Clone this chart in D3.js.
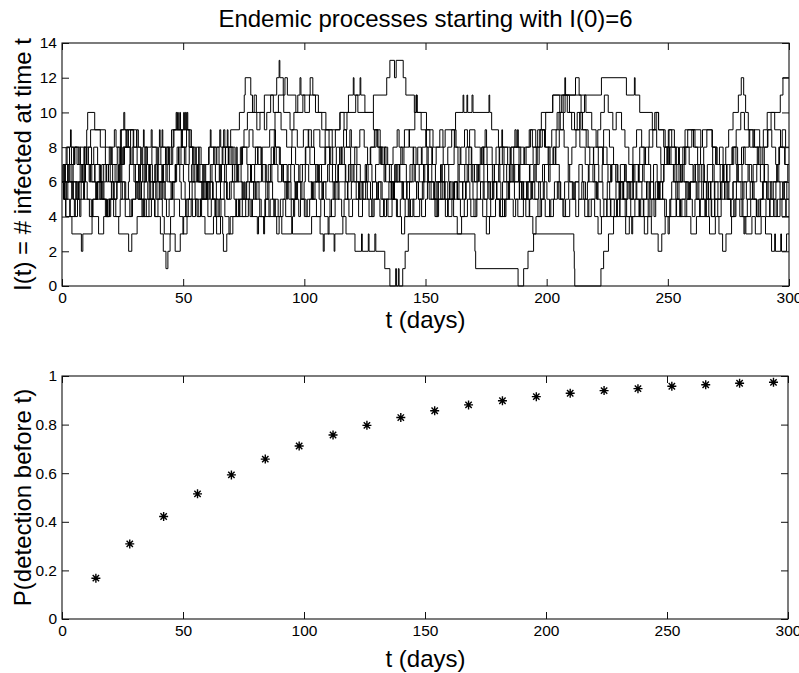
<!DOCTYPE html>
<html>
<head>
<meta charset="utf-8">
<script src="https://cdn.jsdelivr.net/npm/d3@7"></script>
<style>
  body { margin: 0; background: #fff; }
  text { font-family: "Liberation Sans", Arial, Helvetica, sans-serif; }
</style>
</head>
<body>
<div id="chart"></div>
<script>
'use strict'

// sample paths of I(t): [time of jump, new level]
const run1 = [[0,6],[1.4,7],[2.1,8],[3.5,9],[3.8,8],[6.9,7],[8.2,6],[9.1,7],[11.6,6],[13.9,5],[14.4,6],[17.2,7],[19.5,8],[20.1,7],[22.8,8],[23.6,7],[24.1,9],[25.5,10],[25.9,9],[27.2,8],[28.3,9],[29.6,8],[31,7],[32.4,6],[33.3,8],[33.6,9],[33.9,8],[35.2,7],[36.4,6],[38.7,5],[40.1,6],[41.5,7],[43.8,8],[45.2,9],[47.1,10],[47.4,9],[49.2,8],[50.5,7],[52.3,6],[54.8,7],[55.6,6],[57.9,5],[59.4,6],[61.2,7],[62.6,8],[64.8,7],[66.1,8],[66.7,9],[67.2,8],[69.6,9],[73.2,10],[75.2,11],[75.6,12],[77.9,11],[78.6,10],[80.4,9],[81.7,10],[83.5,11],[88.6,12],[89.6,13],[89.9,12],[91.3,11],[92,12],[93,11],[96.5,10],[97.3,11],[98.2,12],[98.6,11],[102.4,12],[103.5,11],[105.8,10],[108.9,9],[110.2,8],[111.7,7],[113.2,8],[114.6,7],[116.9,6],[118.2,7],[120.5,6],[122.6,5],[124.1,6],[126.3,7],[127.9,6],[129.8,5],[131.2,4],[132.7,5],[134.9,6],[137.3,7],[138.1,6],[140.6,5],[142.2,6],[144.5,7],[146.8,8],[148.3,7],[150.9,6],[153.4,5],[155.1,6],[156.9,7],[159.6,6],[161.3,5],[163.8,6],[166.2,7],[167.9,8],[169.1,7],[172.4,6],[174.2,5],[175.7,6],[178.4,7],[180.6,8],[181.5,9],[181.8,8],[184.9,7],[186.1,6],[188.7,5],[190.2,6],[193.1,7],[194.4,8],[196.3,9],[197.8,10],[202.5,11],[207.5,12],[207.8,11],[211.9,12],[213.4,11],[216.2,10],[218.6,9],[220.4,8],[223.1,7],[225.3,6],[226.8,7],[229.4,6],[231.2,5],[233.6,6],[235.8,7],[238.4,8],[240.2,7],[242.9,6],[244.1,5],[246.6,6],[248.3,7],[250.7,8],[253.5,7],[255.2,6],[257.9,5],[259.1,6],[261.4,7],[263.8,6],[265.9,5],[268.1,4],[269.4,5],[271.8,6],[273.2,7],[276.5,8],[278.1,7],[280.6,6],[282.4,5],[284.9,6],[286.7,7],[288.2,6],[290.8,5],[292.3,6],[294.9,7],[296.1,8],[298.4,7]]
const run2 = [[0,6],[0.7,5],[2.4,6],[4.1,7],[5.3,8],[6.2,7],[7.4,8],[10.2,9],[10.6,10],[13.5,9],[15.8,8],[17.9,7],[19.2,6],[21.4,5],[22.6,6],[24.7,7],[25.8,8],[28.1,7],[30.3,6],[31.9,7],[34.6,8],[36.8,9],[37.2,8],[39.5,7],[40.8,8],[41.3,9],[41.6,8],[43.9,7],[45.1,8],[45.9,9],[48.6,10],[48.9,9],[50.2,10],[50.5,9],[51.6,10],[51.9,9],[53.4,8],[55.2,7],[56.9,6],[58.3,7],[60.7,8],[61.2,9],[61.5,8],[63.6,7],[65.2,6],[67.8,7],[69.3,8],[71.4,7],[73.6,8],[75.1,9],[76.5,10],[79.3,11],[80.2,10],[83.5,9],[84.5,10],[86.1,11],[87.2,10],[89.3,11],[91.5,10],[94.1,9],[95.7,10],[99.4,11],[100.2,10],[102.1,11],[104.6,10],[107.2,9],[114.7,10],[118.2,11],[120.2,12],[120.5,11],[123,12],[123.3,11],[125,10],[128.5,9],[130.1,8],[132.4,7],[133.6,6],[135.8,5],[137.2,6],[139.4,7],[141.1,8],[143.2,9],[145.6,10],[146.1,11],[146.4,10],[148.2,9],[150.4,8],[152.6,7],[154.1,6],[156.3,5],[158.2,4],[159.1,5],[161.5,6],[163.2,5],[165.4,6],[167.8,7],[169.5,6],[171.2,7],[173.9,8],[175.4,7],[177.6,6],[179.3,5],[181.8,6],[183.5,7],[185.3,8],[187.9,9],[188.3,8],[190.6,7],[192.9,6],[194.2,5],[196.7,6],[198.3,7],[200.6,8],[202.1,9],[204.3,10],[206.2,11],[208.5,10],[210.3,9],[212.6,10],[214.8,9],[217.1,8],[219.3,7],[221.5,6],[223.2,5],[224.8,4],[226.3,5],[228.6,6],[230.4,7],[232.8,6],[234.5,5],[236.9,6],[238.2,7],[240.8,8],[242.3,9],[244.6,10],[246.2,9],[248.9,8],[250.4,7],[252.9,6],[254.6,7],[256.2,8],[258.8,7],[260.4,6],[262.1,5],[264.7,6],[266.3,7],[268.5,8],[270.3,7],[272.8,6],[274.4,5],[276.9,6],[278.6,7],[281.2,8],[283.5,9],[285.1,8],[287.6,7],[289.2,8],[291.1,9],[292.6,10],[294.1,9],[296.5,8],[298.2,7]]
const run3 = [[0,6],[1.1,7],[2.8,6],[4.4,5],[5.7,6],[7.5,7],[9.2,8],[10.1,7],[12.3,6],[13.6,7],[15.4,6],[16.9,5],[18.5,4],[19.4,5],[21.1,6],[23.3,7],[24.2,8],[24.5,9],[26.4,8],[28.2,7],[29.7,6],[31.4,5],[32.8,6],[34.9,7],[36.1,6],[38.3,7],[39.9,8],[40.2,9],[40.5,8],[42.7,7],[44.3,6],[46.7,7],[48.1,8],[49.7,9],[50.9,10],[51.3,9],[52.4,8],[54.1,7],[56.4,6],[57.7,5],[59.8,6],[61.9,7],[63.3,6],[64.9,7],[66.4,8],[68.7,7],[70.3,6],[72.1,7],[74.5,8],[77.2,9],[78.8,8],[80.9,7],[82.6,8],[85.7,9],[87.9,10],[90.4,9],[92.7,8],[94.9,9],[97.1,8],[99.6,9],[101.8,8],[103.9,9],[106.4,8],[108.6,9],[111.5,8],[112.8,9],[114.7,10],[116.4,9],[117.6,10],[121.2,11],[122.1,10],[128.5,11],[134,12],[135.3,13],[137.2,12],[137.9,13],[140.8,12],[141.9,11],[145.4,10],[146.2,11],[146.6,10],[150.4,9],[153.1,8],[157.3,7],[161.8,8],[162.1,9],[162.4,10],[165.5,11],[165.8,10],[167.1,11],[167.4,10],[169.2,11],[169.6,10],[176.2,11],[176.5,10],[177.3,9],[180.1,8],[182.4,7],[184.6,6],[186.2,7],[188.9,6],[190.5,5],[192.3,6],[194.7,7],[196.1,8],[197.3,9],[199.1,8],[201.4,7],[203.8,8],[205.2,9],[206.9,10],[207.6,11],[209.4,10],[211.5,9],[213.7,8],[215.9,7],[217.2,6],[219.8,7],[221.3,8],[223.5,9],[225.9,8],[227.6,7],[229.1,6],[231.7,5],[233.2,6],[235.4,7],[237.8,6],[239.3,5],[241.9,4],[243.4,5],[245.7,6],[247.2,7],[249.6,8],[251.3,7],[253.7,6],[255.8,7],[257.4,8],[259.9,9],[261.2,8],[263.5,7],[265.1,6],[267.8,5],[269.2,6],[271.6,7],[273.9,8],[275.1,9],[276.9,10],[279.1,11],[280.3,12],[281.3,11],[282.1,10],[283.2,9],[285.8,8],[287.3,7],[289.9,6],[291.4,5],[293.8,4],[295.2,5],[297.6,6],[299.1,5]]
const run4 = [[0,6],[0.9,5],[1.6,4],[4.1,3],[8,2],[8.6,3],[12.4,4],[15.1,3],[17.2,4],[19.6,5],[21.3,4],[23.4,3],[27.5,2],[28.8,3],[31,4],[33.4,5],[34.8,4],[36.9,5],[38.2,4],[40.6,3],[41.8,2],[42.9,1],[43.7,2],[44.6,3],[46.7,2],[48.8,3],[50.2,4],[51.5,5],[53.8,4],[55.1,5],[57.6,4],[59,3],[62.5,4],[63.8,3],[65.4,4],[66.3,3],[66.6,2],[68,3],[69.4,4],[71.7,5],[73.2,4],[75.8,5],[77.3,6],[79.1,5],[81.6,4],[83.2,3],[83.6,4],[85.9,5],[87.4,4],[90.1,5],[92.3,4],[94.6,5],[96.2,6],[98.5,5],[100.7,4],[102.2,5],[104.4,6],[106.1,5],[108.3,4],[109.8,3],[110.2,4],[112.7,5],[114.3,6],[116.8,5],[118.4,4],[119.9,5],[122.4,6],[124.2,5],[126.7,4],[128.3,5],[130.6,6],[132.1,5],[134.5,4],[136.2,5],[138.4,4],[140.1,3],[141.4,4],[143.8,5],[145.2,4],[147.6,5],[149.3,6],[151.5,5],[153.9,4],[155.4,5],[157.7,6],[159.2,5],[161.6,4],[163.1,3],[164.9,4],[167.3,5],[168.7,4],[171.2,5],[173.6,4],[175.1,3],[176.4,4],[178.9,5],[180.5,4],[182.8,5],[184.2,6],[186.7,5],[188.1,4],[190.4,5],[192.8,4],[194.3,3],[195.6,4],[197.9,5],[199.4,4],[201.7,5],[203.2,6],[205.6,5],[207.1,4],[209.5,5],[211.8,6],[213.3,5],[215.7,4],[217.4,5],[219.8,4],[221.2,3],[222.6,4],[224.9,5],[226.5,4],[228.8,5],[230.2,4],[232.6,3],[234.1,4],[236.4,5],[238.8,4],[240.3,3],[241.7,4],[243.2,3],[246,2],[247.5,3],[248.9,4],[251.2,5],[253.6,4],[255.3,5],[257.1,4],[259.5,3],[261.8,4],[263.4,5],[265.9,4],[267.2,3],[269.6,4],[271.1,3],[272.6,2],[274,3],[276.3,4],[278.1,5],[280.6,4],[282.2,3],[284.7,4],[286.1,3],[288.5,4],[290.3,3],[292.8,2],[294.1,3],[294.4,2],[296.6,3],[296.9,2],[299,3]]
const run5 = [[0,6],[1.8,5],[3.2,4],[5.5,5],[7.1,6],[8.9,5],[11.3,4],[12.8,5],[14.6,6],[16.2,5],[18.4,4],[20.1,5],[22.7,6],[24.3,5],[26.1,4],[28.6,5],[30.4,6],[32.2,5],[33.7,4],[35.9,5],[37.5,6],[39.2,5],[41.4,4],[42.2,3],[44.8,4],[46.3,5],[48.5,4],[49.9,3],[51.6,4],[53.3,5],[55.7,4],[57.2,5],[59.6,6],[61.1,5],[63.4,4],[65.6,5],[67.2,4],[68.9,3],[70.5,4],[72.8,5],[74.4,4],[76.9,5],[78.3,4],[80.6,3],[81.1,4],[83.7,5],[85.4,4],[87.8,5],[89.2,4],[90.7,3],[94.8,4],[95.1,3],[103,4],[106.5,3],[107.8,2],[108.2,3],[112.3,2],[112.6,3],[115.9,4],[117.2,3],[120.9,2],[123.6,3],[123.9,2],[126.4,3],[126.7,2],[129.1,3],[129.5,2],[133.2,1],[135.3,0],[137.7,1],[138,0],[138.8,1],[139.1,0],[140.6,1],[141.6,2],[142.9,3],[170.4,2],[170.7,1],[188.2,0],[190.5,1],[192.3,2],[194.6,3],[211.2,2],[211.4,1],[211.6,0],[222.4,1],[223.5,2],[225.5,3],[227.6,4],[230.2,5],[232.4,4],[235.1,3],[235.5,4],[238.3,5],[240.1,4],[242.6,5],[244.8,6],[246.3,5],[248.7,4],[250.1,3],[250.6,4],[253.4,5],[255.2,4],[257.8,5],[259.3,6],[261.7,5],[263.1,4],[265.6,5],[267.9,4],[269.3,5],[271.7,6],[273.4,5],[275.9,4],[277.2,5],[279.7,4],[281.4,3],[281.8,4],[284.2,5],[286.6,4],[288.1,5],[290.5,4],[292.2,5],[294.7,4],[296.3,5],[298.8,4]]
const run6 = [[0,6],[0.5,7],[1.7,8],[3.1,7],[4.6,6],[6.3,5],[7.9,6],[9.4,7],[10.3,8],[11.8,9],[17.9,8],[20.7,7],[21.9,6],[23.8,7],[25.1,8],[27.4,9],[30.8,8],[32.5,7],[33.9,6],[35.4,5],[37.7,6],[39.3,7],[41.2,6],[42.6,5],[45.4,6],[47.3,7],[49.1,8],[51.4,9],[52.8,8],[54.5,7],[56.1,6],[58.6,5],[60.2,4],[61.6,5],[63.7,6],[65.3,7],[67.5,8],[68.2,9],[68.5,8],[70.6,7],[72.4,6],[74.3,5],[75.9,6],[78.2,7],[79.8,8],[82.1,7],[84.3,6],[86.6,7],[88.4,8],[90.1,7],[92.9,6],[94.5,5],[96.8,6],[98.2,7],[100.6,8],[102.3,7],[104.7,6],[106.2,7],[108.5,8],[110.4,7],[112.9,6],[114.1,7],[116.5,8],[118.8,9],[119.4,8],[121.7,7],[123.1,6],[125.6,7],[127.2,8],[129.6,9],[131.3,8],[133.7,7],[135.9,6],[137.5,7],[139.8,8],[141.3,9],[143.4,8],[145.1,7],[147.4,6],[149.7,7],[151.2,6],[153.6,5],[155.3,6],[157.9,7],[159.2,8],[160.8,9],[162.6,8],[164.3,7],[166.7,8],[168.2,9],[170.4,8],[172.6,7],[174.1,6],[176.8,5],[178.2,6],[180.7,7],[182.3,6],[184.8,7],[186.4,8],[188.6,7],[190.9,8],[193.3,9],[195.5,8],[197.2,9],[199.6,10],[202.5,11],[205.4,10],[206.8,11],[214.2,10],[215.6,11],[222.6,12],[232.9,11],[236.2,12],[236.5,11],[238.4,10],[243.6,9],[245.2,10],[246.1,9],[248.3,8],[250.5,9],[252.7,8],[254.4,7],[256.9,8],[258.2,9],[260.6,8],[262.3,7],[264.8,8],[266.1,9],[268.4,8],[270.2,7],[272.7,6],[274.3,7],[276.6,8],[278.2,9],[280.1,10],[281.6,9],[283.8,8],[285.5,9],[287.9,8],[289.4,9],[291,10],[296.4,11],[297.5,12]]
const run7 = [[0,6],[0.4,7],[1.2,6],[2.3,7],[3.9,8],[4.8,7],[5.2,8],[7.6,7],[8.3,6],[9.7,7],[10.9,8],[12.2,7],[13.1,8],[14.7,7],[15.9,6],[16.4,7],[18.3,6],[19.1,7],[20.5,8],[21.6,9],[22.3,8],[24.6,7],[25.3,8],[26.7,9],[29.4,8],[30.9,9],[31.5,8],[32.7,7],[34.2,8],[35.1,7],[37.3,6],[38.5,7],[39.7,6],[41.9,7],[43.2,8],[44.4,7],[45.7,8],[46.2,9],[47.7,10],[48,9],[49.4,8],[51.1,7],[52.5,8],[53.9,7],[55.4,8],[56.6,7],[58.1,6],[59.3,7],[60.5,8],[62.8,7],[63.9,8],[65.1,9],[65.5,8],[67.4,7],[68.6,8],[70.1,7],[71.3,6],[72.9,7],[74.1,8],[76.3,7],[77.8,6],[79.5,7],[80.7,8],[82.4,7],[83.9,6],[85.1,7],[86.3,8],[87.6,9],[88.1,8],[89.7,7],[91.4,6],[93.3,7],[94.7,8],[96.4,7],[97.7,6],[99.2,7],[100.4,8],[101.6,9],[102.9,8],[104.2,7],[105.6,6],[107.1,7],[108.8,8],[110.9,7],[111.6,6],[113.8,7],[115.3,8],[116.2,9],[117.4,8],[119.1,7],[120.8,8],[122.9,9],[124.7,8],[126.1,7],[127.4,8],[128.9,9],[130.4,8],[131.8,7],[133.1,8],[134.4,7],[136.6,8],[138.3,9],[139.1,8],[140.4,7],[142.1,6],[143.6,7],[144.9,8],[146.1,7],[148.6,8],[150.1,9],[151.8,8],[152.9,7],[154.4,8],[155.9,9],[157.2,8],[158.1,9],[161.9,8],[163.4,7],[164.6,8],[166.1,9],[167.3,8],[168.9,7],[170.2,6],[171.6,7],[173.3,8],[174.6,9],[175.2,8],[177.5,7],[179.1,8],[180.4,7],[181.7,8],[183.9,7],[185.2,8],[186.9,9],[187.4,8],[189.3,7],[191.5,8],[192.8,9],[194.1,8],[195.7,7],[196.9,8],[198.2,9],[199.5,8],[200.9,7],[202.6,8],[203.9,9],[205.1,10],[205.6,9],[207.2,8],[208.9,7],[210.4,8],[212.1,9],[213.6,10],[214.1,9],[216.3,8],[217.8,7],[219.4,8],[221.1,9],[222.3,10],[223.8,11],[225.4,10],[227.3,9],[228.7,10],[230.9,9],[232.3,8],[233.9,7],[235.6,8],[237.1,9],[239.2,8],[240.6,7],[242.1,8],[243.8,9],[245.4,8],[247.1,7],[248.6,8],[250.2,9],[251.6,8],[253.1,7],[254.8,8],[257.1,9],[263.6,8],[264.3,9],[268.2,8],[269.7,7],[271.3,8],[272.8,7],[274.2,6],[275.6,7],[277.2,8],[278.8,7],[280.4,8],[281.9,7],[283.6,6],[285.2,7],[286.9,8],[288.4,7],[289.8,8],[291.3,9],[292.9,8],[294.5,7],[295.8,8],[297.2,9],[298.6,8]]
const run8 = [[0,6],[0.6,5],[1.3,6],[2.9,7],[3.3,6],[4.7,5],[5.1,4],[6.4,5],[6.8,6],[8.6,7],[9.1,8],[9.5,7],[11.2,6],[11.7,7],[13.5,6],[14.3,5],[16.1,6],[16.5,5],[17.9,4],[18.8,5],[20.4,6],[20.9,7],[22.7,6],[23.9,7],[24.3,6],[25.9,5],[27.4,6],[27.8,7],[28.9,8],[29.4,7],[31.6,6],[32.1,5],[33.9,6],[34.4,7],[35.8,6],[36.3,7],[37.1,8],[38.9,7],[39.3,6],[40.9,5],[41.4,6],[42.9,7],[43.4,6],[45,5],[45.6,6],[46.9,7],[47.5,8],[48.3,7],[50.1,6],[50.8,5],[52.6,6],[53.5,7],[54.1,6],[55.9,7],[56.4,8],[57.4,7],[58.9,6],[59.7,5],[60.3,6],[62.1,5],[63.1,4],[63.6,5],[65.4,6],[65.8,7],[67.1,6],[68.2,5],[69.8,6],[70.4,7],[71.9,8],[72.3,7],[73.9,6],[74.6,5],[76.2,6],[76.7,7],[78,6],[79.9,5],[80.4,6],[82.3,7],[82.8,6],[84.1,5],[85.4,6],[86,7],[87.3,8],[87.7,7],[89.1,6],[90.6,7],[91.1,6],[92.6,5],[93.1,6],[94.4,7],[95.9,6],[96.3,5],[97.7,4],[98.4,5],[99.9,6],[100.4,7],[101.8,6],[103.2,5],[103.7,6],[105.3,7],[105.9,6],[107.3,5],[107.9,6],[109.6,7],[110.3,6],[111.9,5],[112.4,6],[114.1,7],[114.7,8],[115.6,7],[117.1,6],[117.8,5],[119.4,6],[120.1,7],[121.6,6],[122.8,5],[123.4,6],[125.1,7],[125.6,6],[127.3,5],[128.1,6],[129.4,7],[130.9,8],[131.5,7],[132.9,6],[133.4,7],[135.1,6],[136.5,5],[137.1,6],[138.6,7],[139.3,6],[140.9,5],[141.6,4],[142.9,5],[143.4,6],[145.3,7],[145.8,6],[147.1,5],[148.7,6],[149.2,7],[150.6,8],[151.1,7],[152.6,6],[153.8,5],[154.4,6],[156.2,7],[156.7,6],[158.1,5],[159.9,6],[160.5,5],[161.9,6],[163.4,7],[163.9,6],[165.3,5],[166.8,6],[167.2,7],[168.9,6],[169.6,5],[171.3,6],[171.9,7],[173.2,8],[174.1,7],[175.6,6],[176.2,5],[177.9,6],[178.4,7],[180.2,6],[181.1,5],[182.6,4],[183.2,5],[184.7,6],[185.3,7],[186.8,6],[188.4,7],[188.9,6],[190.3,5],[191.7,6],[192.2,5],[193.8,6],[195.2,7],[195.7,6],[197.4,5],[198.6,6],[199.1,7],[200.8,6],[201.4,7],[202.9,8],[203.6,7],[205.2,6],[205.8,5],[207.4,6],[208.9,7],[209.5,6],[211,5],[211.6,6],[213.3,7],[214.7,6],[215.3,5],[216.8,6],[217.5,7],[219.1,6],[220.6,5],[221.2,6],[222.9,7],[223.4,8],[224.9,7],[226.4,6],[226.9,7],[228.5,6],[229.9,5],[230.5,6],[232.1,7],[232.7,6],[234.3,5],[235.8,6],[236.4,7],[237.9,6],[239.6,7],[240.2,6],[241.8,5],[242.5,6],[244.1,7],[245.6,6],[246.2,5],[247.8,6],[248.4,7],[249.9,8],[250.6,7],[252.3,6],[253.9,5],[254.6,6],[256.1,7],[256.7,6],[258.4,5],[259.1,6],[260.8,7],[262.4,6],[262.9,7],[264.6,6],[266.2,5],[266.8,6],[268.5,7],[269.1,6],[270.7,5],[272.3,6],[272.9,7],[274.4,6],[275.2,5],[276.9,6],[278.5,7],[279.1,6],[280.9,5],[281.4,6],[283.1,7],[284.6,6],[285.1,5],[286.8,4],[287.5,5],[289.1,6],[289.7,7],[291.4,6],[292.9,5],[293.5,6],[295.2,7],[295.8,6],[297.4,5],[298.1,6],[299.5,7]]
const run9 = [[0,6],[1,5],[1.5,4],[3.4,5],[4,6],[5.9,5],[7.3,4],[7.8,5],[9.3,6],[10.4,5],[12.1,4],[12.6,5],[14.8,6],[15.6,5],[17.3,6],[18.2,7],[19.9,6],[21.5,5],[22.2,4],[24,5],[24.9,6],[26.3,5],[28,4],[29.1,5],[30.6,6],[31.3,5],[33,4],[34.1,5],[36,6],[36.6,5],[38.4,4],[39.6,5],[40.4,6],[42.1,5],[43.1,4],[44.2,5],[46.2,6],[46.8,7],[48.6,6],[49.2,5],[51,4],[52.1,5],[53.7,6],[54.9,5],[56.2,4],[57.1,5],[58.5,6],[60,5],[61,6],[62.4,5],[64.4,4],[64.9,5],[66.9,6],[67.9,5],[69.1,6],[71,5],[72,4],[73.4,5],[75,6],[75.4,5],[77.6,4],[78.6,5],[79.2,6],[81.3,5],[82.2,4],[84,5],[84.9,6],[86.9,5],[88,4],[88.6,3],[89.6,4],[91.2,5],[92,6],[93.6,5],[95.5,4],[96,5],[97.2,6],[99,5],[100,4],[101.2,5],[102.9,6],[103.4,5],[105,4],[106.8,5],[107.4,6],[108.9,5],[110.6,4],[111.2,5],[113,6],[113.9,5],[115.4,4],[116.4,5],[118,6],[118.9,7],[119.3,6],[121.4,5],[122.4,4],[124,5],[125.3,6],[126,5],[127.8,4],[128.8,5],[130.3,6],[131.6,5],[133,4],[133.9,5],[136,6],[136.8,5],[138,4],[139.6,5],[140.3,6],[142.4,5],[143.3,4],[144.8,5],[146.3,6],[147,5],[148.4,4],[150,5],[150.8,6],[152.3,5],[154.4,4],[155,5],[156.9,6],[157.9,5],[159.4,4],[160.9,5],[162,6],[163,5],[164.4,4],[166,5],[166.5,6],[168.3,5],[170,4],[170.8,5],[172.7,6],[173.8,5],[175.3,4],[176.9,5],[177.6,6],[179.5,5],[180.9,4],[181.8,5],[183.6,6],[184.4,5],[186.2,4],[187.2,5],[188.8,6],[189.6,5],[191.4,4],[193,5],[193.5,6],[195.1,5],[196.4,4],[197.3,5],[199,6],[200.1,5],[201.2,4],[202.8,5],[204.4,6],[205,5],[206.7,4],[207.8,5],[209.1,6],[210.6,5],[212,4],[213.2,5],[214.5,6],[216,5],[217,4],[218.4,5],[220,6],[220.9,5],[222.1,4],[223.6,5],[225,6],[226,5],[227.9,4],[229.2,5],[230,6],[231.8,5],[233,4],[234.7,5],[235.3,6],[237.2,5],[238.1,4],[239.9,5],[241.2,6],[242.8,5],[244.3,4],[245,5],[246.8,6],[247.9,5],[249.4,4],[250.8,5],[251.6,6],[253.3,5],[254.9,4],[255.8,5],[257.4,6],[258.7,5],[260.1,4],[261.2,5],[262.8,6],[264,5],[265.3,4],[266.9,5],[267.6,6],[269.4,5],[270.6,4],[272,5],[273.6,6],[274.8,5],[276.1,4],[277.7,5],[278.3,6],[280.2,5],[281,4],[282.8,5],[284,6],[285.6,5],[286.5,4],[288.3,5],[289.4,6],[290.9,5],[292,4],[293.7,5],[294.6,6],[296.3,5],[297.1,4],[298.7,5]]

// detection probability, sampled every two weeks
const detectDays = [14, 28, 42, 56, 70, 84, 98, 112, 126, 140, 154, 168, 182, 196, 210, 224, 238, 252, 266, 280, 294]
const detectProb = [0.168, 0.309, 0.422, 0.515, 0.593, 0.658, 0.712, 0.757, 0.797, 0.829, 0.857, 0.881, 0.898, 0.915, 0.929, 0.94, 0.948, 0.958, 0.964, 0.97, 0.974]

const dayTicks = [0, 50, 100, 150, 200, 250, 300]
const countTicks = [0, 2, 4, 6, 8, 10, 12, 14]
const probTicks = [0, 0.2, 0.4, 0.6, 0.8, 1]

const runs = [run1, run2, run3, run4, run5, run6, run7, run8, run9]

const width = 799
const height = 673
const left = 62
const right = 789
const tickLen = 7

const svg = d3.select('#chart')
  .append('svg')
  .attr('width', width)
  .attr('height', height)

const xTop = d3.scaleLinear().domain([0, 300]).range([left, right])
const yTop = d3.scaleLinear().domain([0, 14]).range([286, 43])
const xBot = d3.scaleLinear().domain([0, 300]).range([left, right - 1])
const yBot = d3.scaleLinear().domain([0, 1]).range([619, 376])

function drawFrame (g, x, y, yTicks) {
  const [x0, x1] = x.range()
  const [y0, y1] = y.range()
  const font = g => g.attr('font-size', 15.5).attr('font-family', '"Liberation Sans", Arial, sans-serif')

  g.append('g')
    .attr('transform', `translate(0, ${y0})`)
    .call(d3.axisBottom(x).tickValues(dayTicks).tickSize(-tickLen).tickPadding(6).tickFormat(d3.format('d')))
    .call(font)
  g.append('g')
    .attr('transform', `translate(0, ${y1})`)
    .call(d3.axisTop(x).tickValues(dayTicks).tickSize(-tickLen).tickFormat(''))
  g.append('g')
    .attr('transform', `translate(${x0}, 0)`)
    .call(d3.axisLeft(y).tickValues(yTicks).tickSize(-tickLen).tickPadding(5).tickFormat(d => String(d)))
    .call(font)
  g.append('g')
    .attr('transform', `translate(${x1}, 0)`)
    .call(d3.axisRight(y).tickValues(yTicks).tickSize(-tickLen).tickFormat(''))
  g.selectAll('.domain').remove()
  g.selectAll('.tick line').attr('stroke', '#111')
  g.selectAll('.tick text').attr('fill', '#000')

  g.append('rect')
    .attr('x', x0)
    .attr('y', y1)
    .attr('width', x1 - x0)
    .attr('height', y0 - y1)
    .attr('fill', 'none')
    .attr('stroke', '#111')
    .attr('stroke-width', 1.1)
}

// top panel: sample paths
const topPanel = svg.append('g')

const stair = d3.line()
  .x(d => xTop(d[0]))
  .y(d => yTop(d[1]))
  .curve(d3.curveStepAfter)

topPanel.selectAll('path.run')
  .data(runs)
  .enter()
  .append('path')
  .attr('class', 'run')
  .attr('d', r => stair(r.concat([[xTop.domain()[1], r[r.length - 1][1]]])))
  .attr('fill', 'none')
  .attr('stroke', '#000')
  .attr('stroke-width', 1)

drawFrame(topPanel, xTop, yTop, countTicks)

topPanel.append('text')
  .attr('x', (left + right) / 2)
  .attr('y', 27)
  .attr('text-anchor', 'middle')
  .attr('font-size', 24)
  .text('Endemic processes starting with I(0)=6')

topPanel.append('text')
  .attr('x', (left + right) / 2)
  .attr('y', 328)
  .attr('text-anchor', 'middle')
  .attr('font-size', 24)
  .text('t (days)')

topPanel.append('text')
  .attr('transform', `translate(31, ${(yTop.range()[0] + yTop.range()[1]) / 2}) rotate(-90)`)
  .attr('text-anchor', 'middle')
  .attr('font-size', 24)
  .text('I(t) = # infected at time t')

// bottom panel: detection probability
const botPanel = svg.append('g')
drawFrame(botPanel, xBot, yBot, probTicks)

const r = 4.5
const k = r * Math.SQRT1_2
const asterisk = `M${-r},0H${r}M0,${-r}V${r}M${-k},${-k}L${k},${k}M${-k},${k}L${k},${-k}`

botPanel.selectAll('path.star')
  .data(detectDays)
  .enter()
  .append('path')
  .attr('class', 'star')
  .attr('transform', (d, i) => `translate(${xBot(d)}, ${yBot(detectProb[i])})`)
  .attr('d', asterisk)
  .attr('fill', 'none')
  .attr('stroke', '#000')
  .attr('stroke-width', 1.4)

botPanel.append('text')
  .attr('x', (left + right) / 2)
  .attr('y', 667)
  .attr('text-anchor', 'middle')
  .attr('font-size', 24)
  .text('t (days)')

botPanel.append('text')
  .attr('transform', `translate(31, ${(yBot.range()[0] + yBot.range()[1]) / 2}) rotate(-90)`)
  .attr('text-anchor', 'middle')
  .attr('font-size', 24)
  .text('P(detection before t)')
</script>
</body>
</html>
